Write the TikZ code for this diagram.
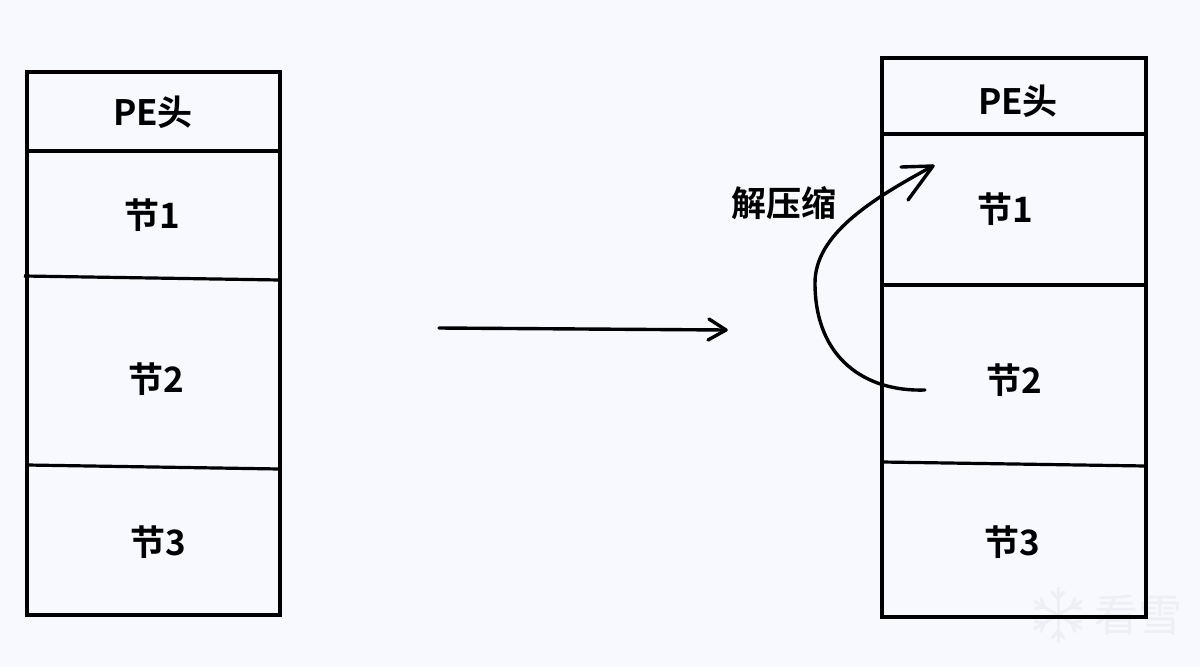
\documentclass[tikz,border=0pt]{standalone}
\usepackage{fontspec}
\setmainfont{Noto Sans CJK SC}[BoldFont={* Bold}]
\definecolor{bgc}{HTML}{F8F9FE}
\definecolor{wm}{HTML}{EDEFF5}
\tikzset{x=1pt,y=-1pt,
 box/.style={draw=black,line width=4pt,fill=none,line join=miter},
 sep/.style={draw=black,line width=3.2pt},
 lab/.style={font=\fontsize{35}{35}\selectfont\bfseries,text=black,inner sep=0pt},
 arrowline/.style={draw=black,line width=3.4pt,line cap=round,line join=round},
 flake/.style={draw=wm,line width=3pt,line cap=round}}
\begin{document}
\begin{tikzpicture}
\useasboundingbox (0,0) rectangle (1200,667);
\fill[bgc] (0,0) rectangle (1200,667);
% watermark
\coordinate (fc) at (1058,615);
\foreach \a in {30,90,...,330}{
  \draw[flake] (fc) -- ++(\a:27);
  \draw[flake] (fc) ++(\a:16) -- ++(\a+40:9);
  \draw[flake] (fc) ++(\a:16) -- ++(\a-40:9);
}
\node[font=\fontsize{44}{44}\selectfont,text=wm,inner sep=0pt] (w) at (1138,615) {看雪};
% boxes
\draw[box] (27,72) rectangle (280,615);
\draw[sep] (27,151) -- (280,151);
\draw[sep] (24,276) -- (280,280);
\draw[sep] (27,465) -- (280,469);
\draw[box] (882,58) rectangle (1146,617);
\draw[sep] (882,134) -- (1146,134);
\draw[sep] (882,285) -- (1146,285);
\draw[sep] (882,462) -- (1146,466);
\node[lab] (a1) at (153,112) {PE头};
\node[lab] (a2) at (152,215) {节1};
\node[lab] (a3) at (156,379) {节2};
\node[lab] (a4) at (158,542) {节3};
\node[lab] (b1) at (1018,101) {PE头};
\node[lab] (b2) at (1005,209) {节1};
\node[lab] (b3) at (1014,380) {节2};
\node[lab] (b4) at (1012,542) {节3};
\node[lab] (c) at (784,203) {解压缩};
\coordinate (s1) at (439,328);
\coordinate (e1) at (726,330);
\draw[arrowline] (s1) -- (e1);
\draw[arrowline] (709,319) -- (e1) -- (708,340);
\coordinate (s2) at (925,390);
\coordinate (m2) at (815,283);
\coordinate (e2) at (933,166);
\draw[arrowline] (s2) .. controls (865,392) and (815,358) .. (m2) .. controls (815,235) and (870,200) .. (e2);
\draw[arrowline] (901,167) -- (e2) -- (908,200);
\end{tikzpicture}
\end{document}
